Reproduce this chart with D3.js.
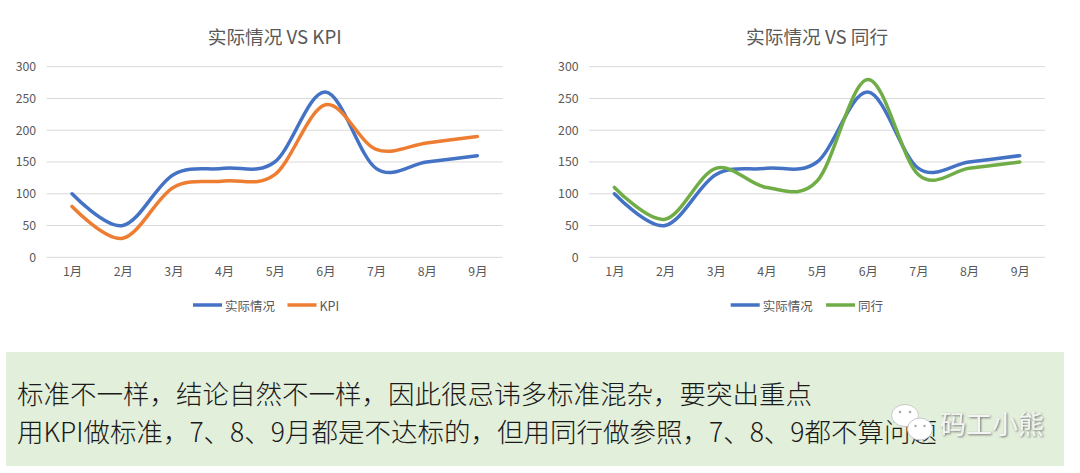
<!DOCTYPE html>
<html>
<head>
<meta charset="utf-8">
<script src="https://cdn.jsdelivr.net/npm/d3@7/dist/d3.min.js"></script>
<style>
  html, body { margin: 0; padding: 0; background: #ffffff; }
  svg { display: block; }
</style>
</head>
<body>
<svg id="chart" width="1080" height="473"></svg>
<script>
// ---- data ----
const months = ["1月", "2月", "3月", "4月", "5月", "6月", "7月", "8月", "9月"];
const actual = [100, 50, 130, 140, 150, 260, 140, 150, 160];
const kpi    = [80, 30, 110, 120, 130, 240, 170, 180, 190];
const peer   = [110, 60, 140, 110, 120, 280, 130, 140, 150];
const yTicks = [0, 50, 100, 150, 200, 250, 300];
const titles = ["实际情况 VS KPI", "实际情况 VS 同行"];
const seriesNames = ["实际情况", "KPI", "同行"];
const noteLines = [
  "标准不一样，结论自然不一样，因此很忌讳多标准混杂，要突出重点",
  "用KPI做标准，7、8、9月都是不达标的，但用同行做参照，7、8、9都不算问题"
];
const watermark = "码工小熊";

const COLORS = { actual: "#4472C4", kpi: "#ED7D31", peer: "#70AD47" };
const FONT = "'Noto Sans CJK SC', 'Noto Sans', sans-serif";
const TXT = "#595959";

const svg = d3.select("#chart");

// defs
const defs = svg.append("defs");
const f = defs.append("filter").attr("id", "wmShadow").attr("x", "-20%").attr("y", "-20%").attr("width", "140%").attr("height", "140%");
f.append("feDropShadow").attr("dx", 1).attr("dy", 1).attr("stdDeviation", 0.8).attr("flood-color", "#555").attr("flood-opacity", 0.8);

function drawChart(offsetX, title, series, legendLayout) {
  const g = svg.append("g").attr("transform", `translate(${offsetX},0)`);
  const x = d3.scalePoint().domain(months).range([46.7, 502.7]).padding(0.5);
  const y = d3.scaleLinear().domain([0, 300]).range([257.3, 66.7]);

  // gridlines
  g.append("g").selectAll("line").data(yTicks).join("line")
    .attr("x1", 46.7).attr("x2", 502.7)
    .attr("y1", d => y(d)).attr("y2", d => y(d))
    .attr("stroke", "#d9d9d9").attr("stroke-width", 1);

  // y axis labels
  const ya = g.append("g").attr("transform", "translate(46.7,0)")
    .call(d3.axisLeft(y).tickValues(yTicks).tickSize(0).tickPadding(10.5));
  ya.select(".domain").remove();
  ya.selectAll("text").attr("font-family", FONT).attr("font-size", 12.3).attr("fill", TXT);

  // x axis labels
  const xa = g.append("g").attr("transform", "translate(0,257.3)")
    .call(d3.axisBottom(x).tickSize(0).tickPadding(10));
  xa.select(".domain").remove();
  xa.selectAll("text").attr("font-family", FONT).attr("font-size", 12.3).attr("fill", TXT);

  // title
  g.append("text").attr("x", 274.7).attr("y", 35.5)
    .attr("text-anchor", "middle").attr("dominant-baseline", "central")
    .attr("font-family", FONT).attr("font-size", 18.67).attr("fill", TXT)
    .text(title);

  // lines
  const line = d3.line()
    .x((d, i) => x(months[i]))
    .y(d => y(d))
    .curve(d3.curveCatmullRom.alpha(0));
  series.forEach(s => {
    g.append("path").datum(s.values)
      .attr("d", line)
      .attr("fill", "none")
      .attr("stroke", s.color)
      .attr("stroke-width", 3.5)
      .attr("stroke-linecap", "round")
      .attr("stroke-linejoin", "round");
  });

  // legend
  const lg = g.append("g");
  series.forEach((s, i) => {
    const L = legendLayout[i];
    lg.append("line").attr("x1", L[0]).attr("x2", L[0] + 29).attr("y1", 305).attr("y2", 305)
      .attr("stroke", s.color).attr("stroke-width", 3.5);
    lg.append("text").attr("x", L[0] + 32).attr("y", 305)
      .attr("dominant-baseline", "central")
      .attr("font-family", FONT).attr("font-size", 12.5).attr("fill", TXT)
      .text(s.name);
  });
}

drawChart(0, titles[0], [
  { name: seriesNames[0], values: actual, color: COLORS.actual },
  { name: seriesNames[1], values: kpi, color: COLORS.kpi }
], [[193], [287.5]]);

drawChart(542.4, titles[1], [
  { name: seriesNames[0], values: actual, color: COLORS.actual },
  { name: seriesNames[2], values: peer, color: COLORS.peer }
], [[188.3], [283.6]]);

// ---- note box ----
svg.append("rect").attr("x", 6).attr("y", 352).attr("width", 1058).attr("height", 114)
  .attr("fill", "#E2EFDA");

svg.selectAll("text.note").data(noteLines).join("text")
  .attr("class", "note")
  .attr("x", 17)
  .attr("y", (d, i) => 392.5 + i * 38)
  .attr("dominant-baseline", "central")
  .attr("font-family", FONT)
  .attr("font-size", 26.5)
  .attr("font-weight", 300)
  .attr("fill", "#1a1a1a")
  .text(d => d);

// ---- watermark ----
const wm = svg.append("g");
wm.append("ellipse").attr("cx", 905).attr("cy", 415.5).attr("rx", 13.5).attr("ry", 11)
  .attr("fill", "#ffffff").attr("stroke", "#c8c8c8").attr("stroke-width", 1);
wm.append("circle").attr("cx", 900).attr("cy", 412).attr("r", 1.3).attr("fill", "#aaa");
wm.append("circle").attr("cx", 910).attr("cy", 412).attr("r", 1.3).attr("fill", "#aaa");
wm.append("ellipse").attr("cx", 920).attr("cy", 429).attr("rx", 12.5).attr("ry", 11)
  .attr("fill", "#ffffff").attr("stroke", "#c8c8c8").attr("stroke-width", 1);
wm.append("circle").attr("cx", 915.5).attr("cy", 426).attr("r", 1.2).attr("fill", "#aaa");
wm.append("circle").attr("cx", 924.5).attr("cy", 426).attr("r", 1.2).attr("fill", "#aaa");
wm.append("text").attr("x", 940).attr("y", 422.5)
  .attr("dominant-baseline", "central")
  .attr("font-family", FONT).attr("font-size", 26)
  .attr("fill", "#f4f4f4").attr("filter", "url(#wmShadow)")
  .text(watermark);
</script>
</body>
</html>
